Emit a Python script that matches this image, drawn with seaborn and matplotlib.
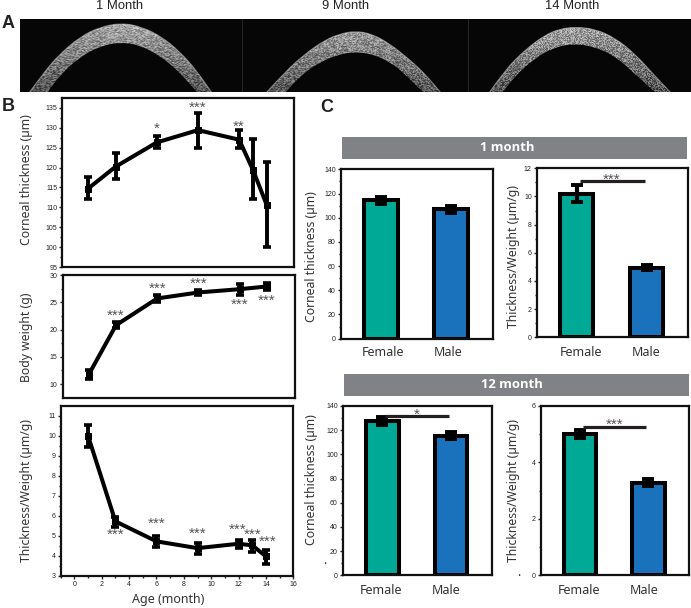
import matplotlib
matplotlib.use("Agg")
import matplotlib.pyplot as plt
from matplotlib.path import Path
from matplotlib.patches import PathPatch
import numpy as np
import pandas as pd
import seaborn as sns

W, H = 691, 608

# panel B data
months = [1, 3, 6, 9, 12, 13, 14]
thick_mean = [114.7, 120.2, 126.3, 129.4, 127.0, 119.5, 110.7]
thick_lo = [112.0, 117.0, 125.0, 125.0, 124.8, 112.0, 100.0]
thick_hi = [117.7, 123.6, 128.0, 133.8, 129.4, 127.2, 121.3]
weight_months = [1, 3, 6, 9, 12, 14]
weight_mean = [11.7, 20.8, 25.7, 26.8, 27.4, 27.9]
weight_lo = [11.0, 20.3, 25.0, 26.3, 26.4, 27.2]
weight_hi = [12.5, 21.3, 26.3, 27.3, 28.4, 28.6]
ratio_mean = [10.0, 5.72, 4.72, 4.38, 4.6, 4.52, 3.97]
ratio_lo = [9.45, 5.45, 4.45, 4.1, 4.4, 4.2, 3.6]
ratio_hi = [10.55, 5.95, 5.0, 4.65, 4.8, 4.8, 4.3]

# significance marks for panel B: (x, y, text)
thick_stars = [(6, 130.5, "*"), (9, 135.9, "***"), (12, 131.1, "**")]
weight_stars = [(3, 23.1, "***"), (6, 28.0, "***"), (9, 28.9, "***"), (12, 25.1, "***"), (14, 25.9, "***")]
ratio_stars = [(3, 5.2, "***"), (6, 5.75, "***"), (9, 5.25, "***"), (11.9, 5.45, "***"), (13, 5.2, "***"), (14.1, 4.85, "***")]

# panel C data
sex = ["Female", "Male"]
thick_1m = [114.5, 106.8]
thick_1m_err = [3.0, 3.0]
ratio_1m = [10.2, 4.95]
ratio_1m_err = [0.6, 0.2]
thick_12m = [127.5, 115.5]
thick_12m_err = [3.5, 3.0]
ratio_12m = [5.0, 3.28]
ratio_12m_err = [0.15, 0.12]

# OCT arcs in panel A, outer and inner edge of each cornea
arc1_outer = [(29, 93), (45, 71), (60, 54), (80, 37), (100, 27), (122, 23), (142, 27), (162, 37), (180, 52), (196, 70), (212, 93)]
arc1_inner = [(47, 93), (60, 75), (80, 57), (100, 46), (122, 42), (142, 46), (160, 56), (175, 68), (190, 84), (198, 93)]
arc2_outer = [(266, 93), (285, 72), (305, 54), (325, 40), (340, 34), (355, 31), (372, 34), (390, 44), (410, 60), (425, 74), (441, 93)]
arc2_inner = [(285, 93), (300, 76), (320, 62), (340, 54), (355, 52), (372, 54), (390, 62), (405, 74), (424, 93)]
arc3_outer = [(489, 93), (505, 70), (525, 50), (545, 35), (560, 29), (575, 27), (595, 29), (615, 38), (635, 54), (655, 76), (671, 93)]
arc3_inner = [(502, 93), (515, 76), (535, 58), (555, 47), (575, 43.5), (595, 47), (615, 56), (635, 74), (656, 93)]

sns.set_style("ticks")
plt.rcParams["font.family"] = ["Noto Sans", "DejaVu Sans"]

fig = plt.figure(figsize=(W / 100, H / 100), dpi=100)


def make_axes(left, right, top, bottom):
    return fig.add_axes([left / W, 1 - bottom / H, (right - left) / W, (bottom - top) / H])


def put_text(x, y, s, **kw):
    fig.text(x / W, 1 - y / H, s, ha="center", va="center", **kw)


def put_stars(ax, x, y, s):
    # asterisks sit high in their text box, so pull them down a little
    ax.annotate(s, (x, y), xytext=(0, -2.2), textcoords="offset points", ha="center", va="center",
                fontsize=11, color="#555555", family="Liberation Sans", zorder=7)


def style_axes(ax, major, minor):
    for sp in ax.spines.values():
        sp.set_visible(True)
        sp.set_linewidth(1.6)
        sp.set_color("#111111")
    ax.set_yticks(major)
    ax.set_yticks(minor, minor=True)
    ax.tick_params(axis="y", which="major", length=2.5, width=1, pad=1, labelsize=5, labelcolor="#222222")
    ax.tick_params(axis="y", which="minor", length=1.5, width=1)
    for lab in ax.get_yticklabels():
        lab.set_family("Liberation Sans")
    ax.set_xlabel("")
    ax.set_ylabel("")


def time_panel(ax, x, mean, lo, hi, stars, ylim, major, minor):
    df = pd.DataFrame({"month": x, "value": mean})
    sns.lineplot(data=df, x="month", y="value", ax=ax, color="black", linewidth=2.9,
                 marker="s", markersize=4.6, markeredgecolor="black", errorbar=None)
    yerr = [np.array(mean) - np.array(lo), np.array(hi) - np.array(mean)]
    ax.errorbar(x, mean, yerr=yerr, fmt="none", ecolor="black", elinewidth=2.8, capsize=2.6, capthick=2.6)
    for sx, sy, s in stars:
        put_stars(ax, sx, sy, s)
    ax.set_xlim(-0.9, 16)
    ax.set_ylim(*ylim)
    style_axes(ax, major, minor)


def bar_panel(ax, values, errs, ylim, major, minor, sig=None):
    df = pd.DataFrame({"sex": sex, "value": values})
    sns.barplot(data=df, x="sex", y="value", hue="sex", palette=["#00a896", "#1b72bc"], legend=False,
                ax=ax, width=0.475, edgecolor="black", linewidth=2.9, saturation=1)
    ax.errorbar([0, 1], values, yerr=errs, fmt="none", ecolor="black", elinewidth=3, capsize=4.2, capthick=2.8, zorder=5)
    if sig is not None:
        ax.plot([0.04, 0.97], [sig[0], sig[0]], color="#231f20", linewidth=2.3, solid_capstyle="butt", zorder=6)
        put_stars(ax, 0.5, sig[0] + (ylim[1] - ylim[0]) * 0.028, sig[1])
    ax.set_xlim(-0.576, 1.596)
    ax.set_ylim(*ylim)
    style_axes(ax, major, minor)
    ax.set_xticks([])


def smooth_verts(pts):
    verts, codes = [], []
    for i in range(1, len(pts) - 1):
        mid = ((pts[i][0] + pts[i + 1][0]) / 2, (pts[i][1] + pts[i + 1][1]) / 2)
        verts += [pts[i], mid]
        codes += [Path.CURVE3, Path.CURVE3]
    verts.append(pts[-1])
    codes.append(Path.LINETO)
    return verts, codes


def draw_arc(ax, outer, inner):
    v1, c1 = smooth_verts(outer)
    v2, c2 = smooth_verts(inner[::-1])
    verts = [outer[0]] + v1 + [inner[-1]] + v2 + [outer[0]]
    codes = [Path.MOVETO] + c1 + [Path.LINETO] + c2 + [Path.CLOSEPOLY]
    patch = PathPatch(Path(verts, codes), facecolor="none", edgecolor="none", transform=ax.transData)
    ax.add_patch(patch)

    # speckle from a sine hash of the pixel position, brighter towards the apex
    yy, xx = np.mgrid[19:92, 19:691]
    hashed = np.sin(xx * 12.9898 + yy * 78.233) * 43758.5453
    tex = hashed - np.floor(hashed) - 0.5
    shade = 0.68 - 0.36 * (yy - 19) / 73 + 0.42 * tex
    im = ax.imshow(shade, cmap="gray", vmin=0, vmax=1, extent=(19, 691, 92, 19), aspect="auto",
                   interpolation="bilinear")
    im.set_clip_path(patch)

    rim = Path([outer[0]] + v1, [Path.MOVETO] + c1)
    ax.add_patch(PathPatch(rim, facecolor="none", edgecolor="#d8d8d8", linewidth=0.8, alpha=0.5))


# panel A
ax_a = make_axes(19.5, 691, 19, 92)
ax_a.set_facecolor("#060606")
for outer, inner in [(arc1_outer, arc1_inner), (arc2_outer, arc2_inner), (arc3_outer, arc3_inner)]:
    draw_arc(ax_a, outer, inner)
ax_a.axvline(242, color="#333333", linewidth=0.5)
ax_a.axvline(468, color="#333333", linewidth=0.5)
ax_a.set_xlim(19.5, 691)
ax_a.set_ylim(92, 19)
ax_a.set_xticks([])
ax_a.set_yticks([])
for sp in ax_a.spines.values():
    sp.set_visible(False)

# panel B
ax_b1 = make_axes(62, 294, 97.5, 267)
time_panel(ax_b1, months, thick_mean, thick_lo, thick_hi, thick_stars, (95, 137.6),
           np.arange(95, 136, 5), np.arange(97.5, 136, 5))
ax_b1.set_xticks([])

ax_b2 = make_axes(62.5, 294.5, 275, 397.7)
time_panel(ax_b2, weight_months, weight_mean, weight_lo, weight_hi, weight_stars, (7.5, 30),
           np.arange(10, 31, 5), np.arange(12.5, 31, 5))
ax_b2.set_xticks([])

ax_b3 = make_axes(60.7, 293.3, 406, 575.7)
time_panel(ax_b3, months, ratio_mean, ratio_lo, ratio_hi, ratio_stars, (3, 11.5),
           np.arange(3, 12, 1), np.arange(3.5, 11.5, 1))
ax_b3.set_xticks(np.arange(0, 17, 2))
ax_b3.set_xticks(np.arange(-1, 16, 2), minor=True)
ax_b3.tick_params(axis="x", which="major", length=2.5, width=1, pad=1, labelsize=5, labelcolor="#222222")
ax_b3.tick_params(axis="x", which="minor", length=1.5, width=1)
for lab in ax_b3.get_xticklabels():
    lab.set_family("Liberation Sans")

# panel C
bar_panel(make_axes(340.7, 492.7, 169.3, 338.7), thick_1m, thick_1m_err, (0, 140),
          np.arange(0, 141, 20), np.arange(10, 140, 20))
bar_panel(make_axes(536.7, 688.3, 168.3, 337.3), ratio_1m, ratio_1m_err, (0, 12),
          np.arange(0, 13, 2), np.arange(1, 12, 2), sig=(11.1, "***"))
bar_panel(make_axes(342.7, 492, 406, 575.3), thick_12m, thick_12m_err, (0, 140),
          np.arange(0, 141, 20), np.arange(10, 140, 20), sig=(131.7, "*"))
bar_panel(make_axes(540.7, 689, 406, 575.3), ratio_12m, ratio_12m_err, (0, 6),
          np.arange(0, 7, 2), np.arange(1, 6, 2), sig=(5.27, "***"))

# grey banners
for left, right, top, bottom, label, cx in [(342, 687, 136.7, 159, "1 month", 507), (344, 689, 374, 396, "12 month", 512)]:
    fig.patches.append(plt.Rectangle((left / W, 1 - bottom / H), (right - left) / W, (bottom - top) / H,
                                     transform=fig.transFigure, facecolor="#808285", edgecolor="none"))
    put_text(cx, (top + bottom) / 2, label, color="white", fontsize=9.4, fontweight="bold", family="Open Sans")

# outside text
for x, s in [(120, "1 Month"), (346, "9 Month"), (572, "14 Month")]:
    put_text(x, 6, s, fontsize=9.4, family="Liberation Sans", color="#222222")
for x, y, s in [(8, 23, "A"), (8, 106.5, "B"), (327, 107, "C")]:
    put_text(x, y, s, fontsize=13, fontweight="bold", family="Liberation Sans", color="#222222")

label_color = "#333333"
for x, y, s in [(27, 180, "Corneal thickness (µm)"), (27, 337, "Body weight (g)"), (27, 490, "Thickness/Weight (µm/g)"),
                (311, 256.5, "Corneal thickness (µm)"), (514, 256, "Thickness/Weight (µm/g)"),
                (311, 480, "Corneal thickness (µm)"), (514, 490, "Thickness/Weight (µm/g)")]:
    put_text(x, y, s, fontsize=8.8, rotation=90, color=label_color)
put_text(168, 600, "Age (month)", fontsize=9, color=label_color)
for x, y, s in [(383, 353, "Female"), (448, 353, "Male"), (581, 353, "Female"), (646, 353, "Male"),
                (381, 591, "Female"), (446, 591, "Male"), (579, 591, "Female"), (644, 591, "Male")]:
    put_text(x, y, s, fontsize=9, color=label_color)

# two stray specks beside the lower panels
put_text(325, 564, "·", fontsize=9, color="#222222")
put_text(519, 576, "·", fontsize=9, color="#222222")

fig.savefig("out.png", dpi=100)
